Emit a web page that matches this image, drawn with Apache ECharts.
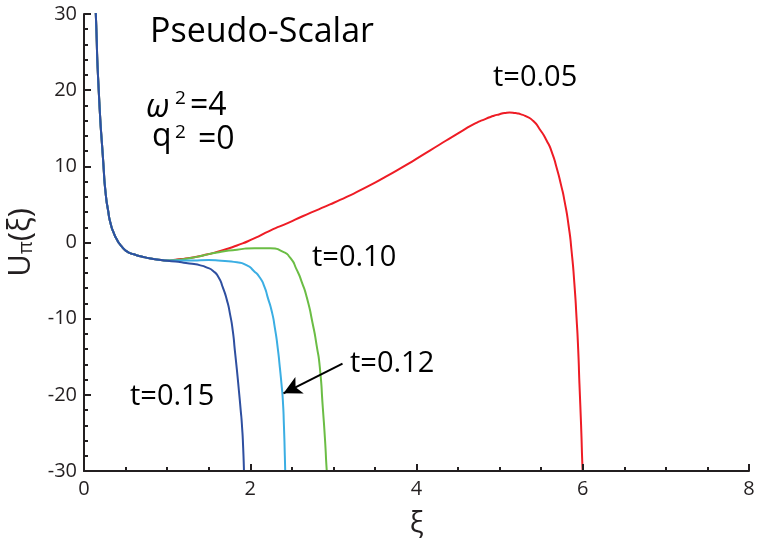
<!DOCTYPE html>
<html>
<head>
<meta charset="utf-8">
<script src="https://cdn.jsdelivr.net/npm/echarts@6/dist/echarts.min.js"></script>
<style>
  html, body { margin: 0; padding: 0; background: #fff; }
  #main { width: 757px; height: 541px; }
</style>
</head>
<body>
<div id="main"></div>
<script>
// values
var xiT05 = [0.13, 0.142, 0.177, 0.235, 0.26, 0.29, 0.32, 0.36, 0.40, 0.43, 0.46, 0.49, 0.52, 0.56, 0.6, 0.64, 0.68, 0.8, 0.9, 1.0,
  1.1, 1.25, 1.43, 1.64, 1.84, 2.04, 2.24, 2.45, 2.63, 2.96, 3.16, 3.35, 3.76, 4.16, 4.555, 4.7, 4.84, 4.92, 5.0, 5.06, 5.12,
  5.19, 5.25, 5.32, 5.40, 5.48, 5.565, 5.63, 5.685, 5.74, 5.78, 5.83, 5.865, 5.9, 5.925, 5.945, 5.96, 5.98, 5.998, 6.005];
var uT05 = [33, 30, 20, 10, 6.5, 4.2, 2.5, 1.2, 0.3, -0.2, -0.6, -0.95, -1.2, -1.42, -1.55, -1.7, -1.8, -2.1, -2.25, -2.35,
  -2.25, -2.05, -1.7, -1.1, -0.39, 0.5, 1.57, 2.55, 3.45, 5.0, 6.0, 7.0, 9.45, 12.07, 14.7, 15.6, 16.27, 16.6, 16.85, 17.0, 17.06,
  17.0, 16.85, 16.55, 16.0, 14.9, 13.4, 11.8, 9.84, 7.5, 5.5, 2.2, -1.05, -5.5, -9.84, -14, -18.5, -24, -29.9, -31];

var xiT10 = [0.13, 0.142, 0.177, 0.235, 0.26, 0.29, 0.32, 0.36, 0.40, 0.43, 0.46, 0.49, 0.52, 0.56, 0.6, 0.64, 0.68, 0.8, 0.9, 1.0,
  1.1, 1.3, 1.43, 1.6, 1.84, 2.05, 2.24, 2.39, 2.48, 2.56, 2.62, 2.68, 2.75, 2.8, 2.837, 2.873, 2.9, 2.92, 2.93];
var uT10 = [33, 30, 20, 10, 6.5, 4.2, 2.5, 1.2, 0.3, -0.2, -0.6, -0.95, -1.2, -1.42, -1.55, -1.7, -1.8, -2.1, -2.25, -2.35,
  -2.3, -2.0, -1.7, -1.3, -0.95, -0.75, -0.75, -1.2, -2.0, -3.6, -5.2, -7.2, -10.6, -13.6, -16.4, -21.7, -26, -29.9, -31];

var xiT12 = [0.13, 0.142, 0.177, 0.235, 0.26, 0.29, 0.32, 0.36, 0.40, 0.43, 0.46, 0.49, 0.52, 0.56, 0.6, 0.64, 0.68, 0.8, 0.9, 1.0,
  1.1, 1.3, 1.5, 1.65, 1.84, 1.96, 2.04, 2.115, 2.17, 2.21, 2.26, 2.296, 2.33, 2.356, 2.375, 2.392, 2.405, 2.416, 2.423];
var uT12 = [33, 30, 20, 10, 6.5, 4.2, 2.5, 1.2, 0.3, -0.2, -0.6, -0.95, -1.2, -1.42, -1.55, -1.7, -1.8, -2.1, -2.25, -2.35,
  -2.35, -2.35, -2.3, -2.4, -2.6, -3.0, -3.7, -4.6, -5.8, -7.2, -9.1, -11.2, -13.8, -16.4, -18.5, -20.7, -24, -28, -31];

var xiT15 = [0.13, 0.142, 0.177, 0.235, 0.26, 0.29, 0.32, 0.36, 0.40, 0.43, 0.46, 0.49, 0.52, 0.56, 0.6, 0.64, 0.68, 0.8, 0.9, 1.0,
  1.1, 1.2, 1.3, 1.4, 1.48, 1.55, 1.62, 1.67, 1.72, 1.755, 1.79, 1.815, 1.84, 1.863, 1.885, 1.899, 1.915, 1.925];
var uT15 = [33, 30, 20, 10, 6.5, 4.2, 2.5, 1.2, 0.3, -0.2, -0.6, -0.95, -1.2, -1.42, -1.55, -1.7, -1.8, -2.1, -2.25, -2.4,
  -2.5, -2.65, -2.8, -3.0, -3.3, -3.7, -4.6, -5.9, -7.6, -9.3, -11.6, -14.2, -16.8, -19.4, -22, -23.8, -27, -30.5];

var xTicks = [0, 2, 4, 6, 8];
var yTicks = [-30, -20, -10, 0, 10, 20, 30];

function pairs(xs, ys) {
  var res = [];
  for (var i = 0; i < xs.length; i++) {
    res.push([xs[i], ys[i]]);
  }
  return res;
}

var ink = "#231F20";
var font = "'Open Sans', sans-serif";

function curve(name, color, xs, ys) {
  return {
    name: name,
    type: "line",
    data: pairs(xs, ys),
    showSymbol: false,
    smooth: 0.7,
    clip: true,
    lineStyle: { color: color, width: 2 },
    z: 3
  };
}

var chart = echarts.init(document.getElementById("main"));

var series = [
  curve("t=0.05", "#EE1C25", xiT05, uT05),
  curve("t=0.10", "#6BBD45", xiT10, uT10),
  curve("t=0.12", "#3BAEE3", xiT12, uT12),
  curve("t=0.15", "#2E4FA0", xiT15, uT15)
];

// arrow pointing to the t=0.12 curve
series[2].markLine = {
  silent: true,
  symbol: ["none", "arrow"],
  symbolSize: [14, 18],
  label: { show: false },
  lineStyle: { color: "#000", width: 2, type: "solid" },
  data: [[{ coord: [3.11, -15.9] }, { coord: [2.40, -19.8] }]]
};

var option = {
  animation: false,
  grid: { left: 84, right: 8, top: 14, bottom: 70, outerBoundsMode: "none" },
  xAxis: [
    {
      type: "value",
      min: xTicks[0],
      max: xTicks[xTicks.length - 1],
      interval: 2,
      name: "ξ",
      nameLocation: "middle",
      nameGap: 38,
      nameTextStyle: { fontFamily: font, fontSize: 29, color: ink },
      axisLine: { show: true, onZero: false, lineStyle: { color: ink, width: 2 } },
      axisTick: { show: true, inside: true, length: 7, lineStyle: { color: ink, width: 2 } },
      splitLine: { show: false },
      axisLabel: { fontFamily: font, fontSize: 20, color: ink, margin: 8 },
      z: 4
    },
    {
      // short inner ticks every 0.5
      type: "value",
      position: "bottom",
      offset: 0,
      min: xTicks[0],
      max: xTicks[xTicks.length - 1],
      interval: 0.5,
      axisLine: { show: false, onZero: false },
      axisTick: { show: true, inside: true, length: 4, lineStyle: { color: ink, width: 2 } },
      axisLabel: { show: false },
      splitLine: { show: false }
    }
  ],
  yAxis: [
    {
      type: "value",
      min: yTicks[0],
      max: yTicks[yTicks.length - 1],
      interval: 10,
      name: "{u|U}{s|π}{u|(ξ)}",
      nameLocation: "middle",
      nameRotate: 90,
      nameGap: 47,
      nameTextStyle: {
        fontFamily: font,
        color: ink,
        rich: {
          u: { fontFamily: font, fontSize: 31, color: ink },
          s: { fontFamily: font, fontSize: 20, color: ink, padding: [12, 0, 0, 0] }
        }
      },
      axisLine: { show: true, onZero: false, lineStyle: { color: ink, width: 2 } },
      axisTick: { show: true, inside: true, length: 7, lineStyle: { color: ink, width: 2 } },
      splitLine: { show: false },
      axisLabel: { fontFamily: font, fontSize: 20, color: ink, margin: 7 },
      z: 4
    },
    {
      // short inner ticks every 2
      type: "value",
      position: "left",
      offset: 0,
      min: yTicks[0],
      max: yTicks[yTicks.length - 1],
      interval: 2,
      axisLine: { show: false, onZero: false },
      axisTick: { show: true, inside: true, length: 4, lineStyle: { color: ink, width: 2 } },
      axisLabel: { show: false },
      splitLine: { show: false }
    }
  ],
  graphic: [
    { type: "text", x: 150, y: 32, style: { text: "Pseudo-Scalar", font: "34px " + font, fill: "#000", verticalAlign: "middle" } },
    { type: "text", x: 146, y: 108, style: { text: "ω", font: "italic 32px " + font, fill: "#000", verticalAlign: "middle" } },
    { type: "text", x: 175, y: 99, style: { text: "2", font: "19px " + font, fill: "#000", verticalAlign: "middle" } },
    { type: "text", x: 190, y: 106, style: { text: "=4", font: "32px " + font, fill: "#000", verticalAlign: "middle" } },
    { type: "text", x: 152, y: 137, style: { text: "q", font: "32px " + font, fill: "#000", verticalAlign: "middle" } },
    { type: "text", x: 175, y: 133, style: { text: "2", font: "19px " + font, fill: "#000", verticalAlign: "middle" } },
    { type: "text", x: 198, y: 140, style: { text: "=0", font: "32px " + font, fill: "#000", verticalAlign: "middle" } },
    { type: "text", x: 493, y: 78, style: { text: "t=0.05", font: "29px " + font, fill: "#000", verticalAlign: "middle" } },
    { type: "text", x: 312, y: 258, style: { text: "t=0.10", font: "29px " + font, fill: "#000", verticalAlign: "middle" } },
    { type: "text", x: 350, y: 364, style: { text: "t=0.12", font: "29px " + font, fill: "#000", verticalAlign: "middle" } },
    { type: "text", x: 130, y: 397, style: { text: "t=0.15", font: "29px " + font, fill: "#000", verticalAlign: "middle" } }
  ],
  series: series
};

chart.setOption(option);
</script>
</body>
</html>
